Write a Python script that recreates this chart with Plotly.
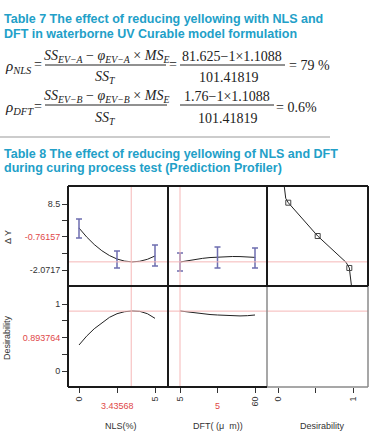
import plotly.graph_objects as go

W, H = 375, 436
def X(px): return px / W
def Y(py): return 1 - py / H

# ---------------- data ----------------
nls_x = [0, 0.5, 1, 1.5, 2, 2.5, 3, 3.5, 4, 4.5, 5]
nls_dy = [-0.435, -0.783, -1.077, -1.319, -1.507, -1.643, -1.725, -1.755, -1.731, -1.655, -1.525]
nls_des = [0.388, 0.52, 0.63, 0.72, 0.80, 0.855, 0.885, 0.895, 0.89, 0.855, 0.786]
nls_err_x = [0, 2.5, 5]
nls_err_y = [-0.435, -1.643, -1.525]
nls_err_plus = [0.351, 0.313, 0.425]
nls_err_minus = [0.39, 0.347, 0.395]

dft_x = [5, 10.5, 16, 21.5, 27, 32.5, 38, 43.5, 49, 54.5, 60]
dft_dy = [-1.76, -1.704, -1.657, -1.618, -1.587, -1.565, -1.551, -1.546, -1.549, -1.56, -1.58]
dft_des = [0.896, 0.88, 0.866, 0.853, 0.843, 0.836, 0.829, 0.824, 0.822, 0.826, 0.836]
dft_err_x = [5, 32.5, 60]
dft_err_y = [-1.76, -1.565, -1.58]
dft_err_plus = [0.35, 0.39, 0.37]
dft_err_minus = [0.35, 0.425, 0.41]

desfn_x = [0.083, 0.103, 0.137, 0.529, 0.907, 0.951, 0.983]
desfn_dy = [1.20, 0.722, 0.551, -0.747, -1.771, -1.993, -2.77]
desmark_x = [0.137, 0.529, 0.951]
desmark_dy = [0.551, -0.747, -1.993]

cur_nls = 3.43568
cur_dft = 5
cur_dy = -1.755
cur_des = 0.893764

dy_tickvals = [0.5, -0.1308, -0.76157, -1.4166, -2.0717]
dy_ticktext = ["8.5", " ", "<span style='color:#E04848'>-0.76157</span>", " ", "-2.0717"]
des_tickvals = [1, 0.75, 0.5, 0.25, 0]
des_ticktext = ["1", " ", "<span style='color:#E04848'>0.893764</span>", " ", "0"]
nls_tickvals = [0, 2.5, 5]
nls_ticktext = ["0", " ", "5"]
dft_tickvals = [5, 32.5, 60]
dft_ticktext = ["5", " ", "60"]
dx_tickvals = [0, 0.5, 1]
dx_ticktext = ["0", " ", "1"]

# ---------------- figure ----------------
fig = go.Figure()
CURVE = dict(color="#222222", width=1)
ERR = "#6E6EB0"

fig.add_trace(go.Scatter(x=nls_x, y=nls_dy, mode="lines", line=CURVE, xaxis="x", yaxis="y"))
fig.add_trace(go.Scatter(x=nls_err_x, y=nls_err_y, mode="markers", marker=dict(size=1, color=ERR),
                         error_y=dict(type="data", array=nls_err_plus, arrayminus=nls_err_minus,
                                      color=ERR, thickness=1.5, width=3), xaxis="x", yaxis="y"))
fig.add_trace(go.Scatter(x=dft_x, y=dft_dy, mode="lines", line=CURVE, xaxis="x2", yaxis="y2"))
fig.add_trace(go.Scatter(x=dft_err_x, y=dft_err_y, mode="markers", marker=dict(size=1, color=ERR),
                         error_y=dict(type="data", array=dft_err_plus, arrayminus=dft_err_minus,
                                      color=ERR, thickness=1.5, width=3), xaxis="x2", yaxis="y2"))
fig.add_trace(go.Scatter(x=desfn_x, y=desfn_dy, mode="lines", line=CURVE, xaxis="x3", yaxis="y3"))
fig.add_trace(go.Scatter(x=desmark_x, y=desmark_dy, mode="markers",
                         marker=dict(symbol="square-open", size=5, color="#444444", line=dict(width=1)),
                         xaxis="x3", yaxis="y3"))
fig.add_trace(go.Scatter(x=nls_x, y=nls_des, mode="lines", line=CURVE, xaxis="x4", yaxis="y4"))
fig.add_trace(go.Scatter(x=dft_x, y=dft_des, mode="lines", line=CURVE, xaxis="x5", yaxis="y5"))

colx = [[X(68), X(168)], [X(168), X(267)], [X(267), X(368)]]
rowy_top = [Y(286), Y(186)]
rowy_bot = [Y(387), Y(286)]
xr = [[-11 / 15.2, 5 + 13 / 15.2], [5 - 12 / 1.3636, 60 + 12 / 1.3636], [-11 / 75, 1 + 15 / 75]]
yr_top = [-2.0717 - 16 * 0.03896, 0.5 + 18 * 0.03896]
yr_bot = [-16 / 67, 1 + 18 / 67]

TF = dict(family="Liberation Sans, Arial, sans-serif", size=9, color="#333333")
base = dict(showgrid=False, zeroline=False, showline=False, fixedrange=True, ticks="", showticklabels=False)
lay = {}
xt = [(nls_tickvals, nls_ticktext), (dft_tickvals, dft_ticktext), (dx_tickvals, dx_ticktext)]
for i in range(3):
    lay["xaxis" + ("" if i == 0 else str(i + 1))] = dict(base, domain=colx[i], range=xr[i], anchor="y" + ("" if i == 0 else str(i + 1)))
    lay["xaxis" + str(i + 4)] = dict(base, domain=colx[i], range=xr[i], anchor="y" + str(i + 4),
                                    ticks="outside", ticklen=5, tickwidth=1, tickcolor="#333333",
                                    showticklabels=True, tickvals=xt[i][0], ticktext=xt[i][1],
                                    tickangle=-90, tickfont=TF)
    lay["yaxis" + ("" if i == 0 else str(i + 1))] = dict(base, domain=rowy_top, range=yr_top, anchor="x" + ("" if i == 0 else str(i + 1)))
    lay["yaxis" + str(i + 4)] = dict(base, domain=rowy_bot, range=yr_bot, anchor="x" + str(i + 4))
lay["yaxis"].update(ticks="outside", ticklen=5, tickwidth=1, tickcolor="#333333", showticklabels=True,
                    tickvals=dy_tickvals, ticktext=dy_ticktext, tickfont=TF)
lay["yaxis4"].update(ticks="outside", ticklen=5, tickwidth=1, tickcolor="#333333", showticklabels=True,
                     tickvals=des_tickvals, ticktext=des_ticktext, tickfont=TF)

shapes = []
RED = "#F5B8B8"
# current value reference lines
for xa, ya in [("x", "y"), ("x4", "y4")]:
    shapes.append(dict(type="line", xref=xa, yref=ya + " domain", x0=cur_nls, x1=cur_nls, y0=0, y1=1, line=dict(color=RED, width=1)))
for xa, ya in [("x2", "y2"), ("x5", "y5")]:
    shapes.append(dict(type="line", xref=xa, yref=ya + " domain", x0=cur_dft, x1=cur_dft, y0=0, y1=1, line=dict(color=RED, width=1)))
for xa, ya in [("x", "y"), ("x2", "y2"), ("x3", "y3")]:
    shapes.append(dict(type="line", xref=xa + " domain", yref=ya, x0=0, x1=1, y0=cur_dy, y1=cur_dy, line=dict(color=RED, width=1)))
for xa, ya in [("x4", "y4"), ("x5", "y5"), ("x6", "y6")]:
    shapes.append(dict(type="line", xref=xa + " domain", yref=ya, x0=0, x1=1, y0=cur_des, y1=cur_des, line=dict(color=RED, width=1)))

def pline(x0, y0, x1, y1, color, width):
    shapes.append(dict(type="line", xref="paper", yref="paper", x0=X(x0), y0=Y(y0), x1=X(x1), y1=Y(y1),
                       line=dict(color=color, width=width), layer="above"))

GR = "#8A8A8A"
pline(267, 286, 267, 387, GR, 1.5)
pline(368, 286, 368, 387, GR, 1.5)
pline(267, 387, 368, 387, GR, 1.5)
BK = "#1A1A1A"
pline(68, 186, 368, 186, BK, 2)
pline(68, 286, 368, 286, BK, 2)
pline(68, 186, 68, 387, BK, 2)
pline(168, 186, 168, 387, BK, 2)
pline(267, 186, 267, 286, BK, 2)
pline(368, 186, 368, 286, BK, 2)
pline(68, 387, 267, 387, BK, 2)
# separator rule
pline(0, 137, 330, 137, "#BBBBBB", 1.5)
# fraction bars
pline(45, 65, 166, 65, "#222222", 1)
pline(180, 65, 285, 65, "#222222", 1)
pline(45, 105, 167, 105, "#222222", 1)
pline(180, 105, 274, 105, "#222222", 1)

ann = []
TEAL = "#22A0C8"
def txt(s, px, py, size=9, color="#333333", family="Liberation Sans, Arial, sans-serif", xa="center", angle=0):
    ann.append(dict(text=s, x=X(px), y=Y(py), xref="paper", yref="paper", xanchor=xa, yanchor="middle",
                    showarrow=False, textangle=angle, font=dict(size=size, color=color, family=family)))

TT = "Liberation Sans, Arial, sans-serif"
txt("<b>Table 7 The effect of reducing yellowing with NLS and</b>", 2, 19, 12.5, TEAL, TT, "left")
txt("<b>DFT in waterborne UV Curable model formulation</b>", 2, 33.5, 12.5, TEAL, TT, "left")
txt("<b>Table 8 The effect of reducing yellowing of NLS and DFT</b>", 2, 153.5, 12.5, TEAL, TT, "left")
txt("<b>during curing process test (Prediction Profiler)</b>", 2, 168, 12.5, TEAL, TT, "left")

SF = "Liberation Serif, Times New Roman, serif"
EC = "#222222"
# row 1
txt("<i>ρ</i><sub><i>NLS</i></sub>", 3, 67, 15, EC, SF, "left")
txt("=", 38, 65, 14, EC, SF)
txt("<i>SS</i><sub><i>EV−A</i></sub> − <i>φ</i><sub><i>EV−A</i></sub> × <i>MS</i><sub><i>E</i></sub>", 106, 56, 14, EC, SF)
txt("<i>SS</i><sub><i>T</i></sub>", 105, 77, 14, EC, SF)
txt("=", 173, 65, 14, EC, SF)
txt("81.625−1×1.1088", 232, 56, 14, EC, SF)
txt("101.41819", 229, 77, 14, EC, SF)
txt("= 79 %", 287, 66, 14, EC, SF, "left")
# row 2
txt("<i>ρ</i><sub><i>DFT</i></sub>", 3, 108, 15, EC, SF, "left")
txt("=", 38, 106, 14, EC, SF)
txt("<i>SS</i><sub><i>EV−B</i></sub> − <i>φ</i><sub><i>EV−B</i></sub> × <i>MS</i><sub><i>E</i></sub>", 106, 96, 14, EC, SF)
txt("<i>SS</i><sub><i>T</i></sub>", 105, 118, 14, EC, SF)
txt("1.76−1×1.1088", 227, 96, 14, EC, SF)
txt("101.41819", 228, 118, 14, EC, SF)
txt("= 0.6%", 274, 107, 14, EC, SF, "left")

# profiler labels
txt("Δ Y", 8, 237, 9, "#333333", TT, angle=-90)
txt("Desirability", 7, 338, 9, "#333333", TT, angle=-90)
txt("NLS(%)", 121, 426, 9, "#333333", TT)
txt("DFT( (μ  m))", 218, 426, 9, "#333333", TT)
txt("Desirability", 322, 426, 9, "#333333", TT)
ann.append(dict(text=str(cur_nls), x=2.5, xref="x4", y=Y(406), yref="paper", showarrow=False,
                yanchor="middle", font=dict(size=9, color="#E04848", family=TT)))
ann.append(dict(text=str(cur_dft), x=32.5, xref="x5", y=Y(406), yref="paper", showarrow=False,
                yanchor="middle", font=dict(size=9, color="#E04848", family=TT)))

fig.update_layout(width=W, height=H, margin=dict(l=0, r=0, t=0, b=0), showlegend=False,
                  paper_bgcolor="white", plot_bgcolor="white", shapes=shapes, annotations=ann, **lay)
fig.write_html("out.html", config={"displayModeBar": False},
               post_script="document.body.style.margin='0px';document.body.style.overflow='hidden';")
